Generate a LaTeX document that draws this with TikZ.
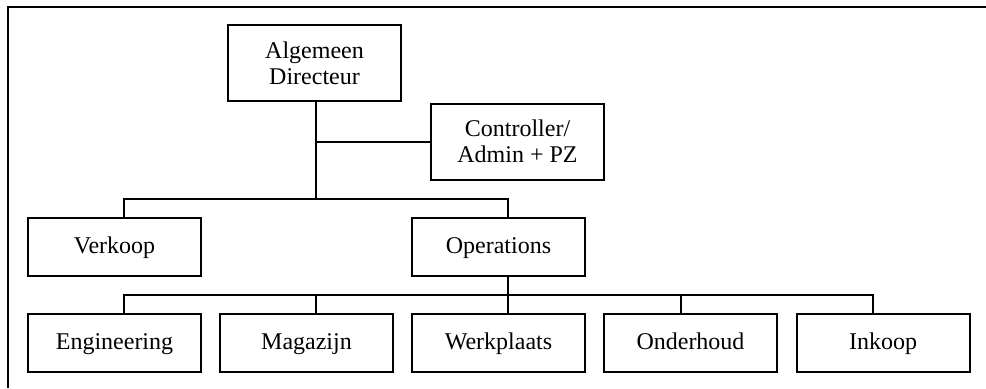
\documentclass[tikz,border=0pt]{standalone}
\usepackage{fontspec}
\setmainfont{Liberation Serif}
\begin{document}
\begin{tikzpicture}[x=0.5pt,y=-0.5pt,
  box/.style={draw, line width=1pt, minimum width=86.5pt, inner sep=0pt,
    align=center, font=\fontsize{12}{12.8}\selectfont},
  low/.style={box, minimum height=29pt, text height=8.5pt, text depth=2.5pt},
  tall/.style={box, minimum height=38pt},
  link/.style={line width=1pt},
  frame/.style={line width=1pt}]
\useasboundingbox (0,0) rectangle (986,388);

% partial frame (top and left edges)
\draw[frame] (986,7) -- (8,7) -- (8,388);

% boxes
\node[tall] (ad)   at (314.5,63)   {Algemeen\\Directeur};
\node[tall] (ctrl) at (517.5,141.5) {Controller/\\Admin + PZ};
\node[low]  (verk) at (114.5,247)  {Verkoop};
\node[low]  (ops)  at (498.5,247)  {Operations};
\node[low]  (eng)  at (114.5,343)  {Engineering};
\node[low]  (mag)  at (306.5,343)  {Magazijn};
\node[low]  (werk) at (498.5,343)  {Werkplaats};
\node[low]  (ond)  at (690.5,343)  {Onderhoud};
\node[low]  (ink)  at (883,343)    {Inkoop};

% junction points
\coordinate (staff) at (316,142);
\coordinate (top)   at (316,199);
\coordinate (v1)    at (124,199);
\coordinate (o1)    at (508,199);
\coordinate (o2)    at (508,295);
\coordinate (e2)    at (124,295);
\coordinate (m2)    at (316,295);
\coordinate (n2)    at (681,295);
\coordinate (i2)    at (873,295);

% connectors
\draw[link] (ad.south -| top) -- (top);
\draw[link] (staff) -- (staff -| ctrl.west);
\draw[link] (verk.north -| v1) -- (v1) -- (o1) -- (ops.north -| o1);
\draw[link] (ops.south -| o2) -- (o2);
\draw[link] (eng.north -| e2) -- (e2) -- (i2) -- (ink.north -| i2);
\draw[link] (m2) -- (mag.north -| m2);
\draw[link] (o2) -- (werk.north -| o2);
\draw[link] (n2) -- (ond.north -| n2);
\end{tikzpicture}
\end{document}
